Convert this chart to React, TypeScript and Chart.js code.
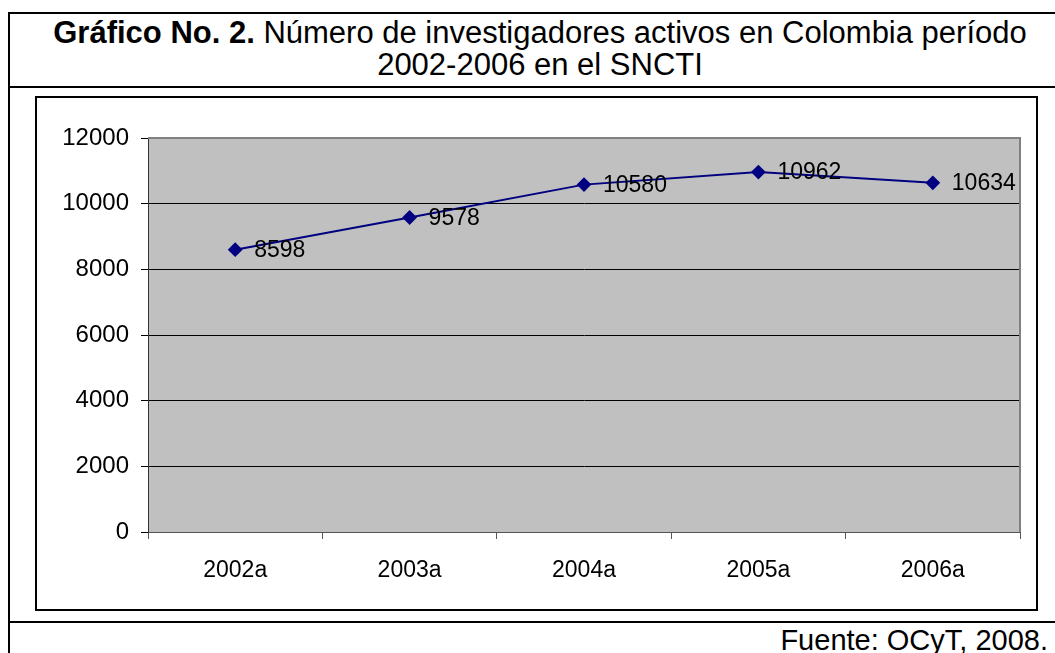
import React, { useEffect, useRef } from "react";
import { Chart, registerables } from "chart.js";

Chart.register(...registerables);

const categories = ["2002a", "2003a", "2004a", "2005a", "2006a"];
const investigadores = [8598, 9578, 10580, 10962, 10634];
const yMin = 0;
const yMax = 12000;
const yStep = 2000;

const FONT = "'Liberation Sans', Arial, sans-serif";

export default function App() {
  const ref = useRef<HTMLCanvasElement | null>(null);

  useEffect(() => {
    if (!ref.current) return;
    const bgPlugin = {
      id: "plotBg",
      beforeDraw(chart: any) {
        const { ctx, chartArea: a } = chart;
        ctx.save();
        ctx.fillStyle = "#c0c0c0";
        ctx.fillRect(a.left, a.top, a.right - a.left, a.bottom - a.top);
        ctx.restore();
      },
      beforeDatasetsDraw(chart: any) {
        const { ctx, chartArea: a } = chart;
        ctx.save();
        ctx.strokeStyle = "#808080";
        ctx.lineWidth = 2;
        ctx.beginPath();
        ctx.moveTo(a.left, a.top);
        ctx.lineTo(a.right, a.top);
        ctx.lineTo(a.right, a.bottom);
        ctx.stroke();
        ctx.restore();
      },
    };
    const labelPlugin = {
      id: "valLabels",
      afterDatasetsDraw(chart: any) {
        const { ctx } = chart;
        const meta = chart.getDatasetMeta(0);
        ctx.save();
        ctx.font = `23px ${FONT}`;
        ctx.fillStyle = "#000";
        ctx.textAlign = "left";
        ctx.textBaseline = "middle";
        meta.data.forEach((pt: any, i: number) => {
          ctx.fillText(String(investigadores[i]), pt.x + 19, pt.y + 1);
        });
        ctx.restore();
      },
    };
    const chart = new Chart(ref.current, {
      type: "line",
      data: {
        labels: categories,
        datasets: [
          {
            data: investigadores,
            borderColor: "#000080",
            backgroundColor: "#000080",
            borderWidth: 2,
            pointStyle: "rectRot",
            pointRadius: 6,
            pointHoverRadius: 6,
            pointBackgroundColor: "#000080",
            pointBorderColor: "#000080",
            tension: 0,
          },
        ],
      },
      options: {
        responsive: false,
        animation: false,
        layout: { padding: { left: 0, top: 40, right: 16, bottom: 0 } },
        plugins: {
          legend: { display: false },
          tooltip: { enabled: false },
          title: { display: false },
        },
        scales: {
          x: {
            offset: true,
            grid: {
              offset: true,
              drawOnChartArea: false,
              tickLength: 7,
              color: "#555",
            },
            border: { display: true, color: "#555", width: 1 },
            ticks: {
              color: "#000",
              font: { family: FONT, size: 23 },
              padding: 18,
              maxRotation: 0,
            },
            afterFit(scale: any) {
              scale.height = 78;
            },
          },
          y: {
            min: yMin,
            max: yMax,
            grid: {
              color: (c: any) => (c.tick && c.tick.value === yMax ? "#808080" : "#000"),
              tickColor: "#000",
              tickLength: 7,
              lineWidth: 1,
            },
            border: { display: true, color: "#333", width: 1 },
            ticks: {
              stepSize: yStep,
              color: "#000",
              font: { family: FONT, size: 24 },
              padding: 12,
              callback: (v: any) => String(v),
            },
            afterFit(scale: any) {
              scale.width = 112;
            },
          },
        },
      },
      plugins: [bgPlugin, labelPlugin],
    });
    return () => chart.destroy();
  }, []);

  return (
    <div
      style={{
        position: "fixed",
        left: 0,
        top: 0,
        width: 1055,
        height: 653,
        overflow: "hidden",
        background: "#fff",
        fontFamily: FONT,
        color: "#000",
      }}
    >
      {/* outer box */}
      <div
        style={{
          position: "absolute",
          left: 8,
          top: 12,
          width: 1070,
          height: 700,
          border: "2px solid #000",
          boxSizing: "border-box",
        }}
      />
      {/* title */}
      <div
        style={{
          position: "absolute",
          left: 9,
          width: 1062,
          top: 17,
          textAlign: "center",
          fontSize: 31,
          lineHeight: "32px",
        }}
      >
        <b>Gráfico No. 2.</b> Número de investigadores activos en Colombia período
        <br />
        2002-2006 en el SNCTI
      </div>
      {/* separator under title */}
      <div style={{ position: "absolute", left: 9, top: 86, width: 1070, height: 2, background: "#000" }} />
      {/* inner chart box */}
      <div
        style={{
          position: "absolute",
          left: 35,
          top: 96,
          width: 1003,
          height: 515,
          border: "2px solid #000",
          boxSizing: "border-box",
        }}
      />
      <canvas
        ref={ref}
        width={1000}
        height={512}
        style={{ position: "absolute", left: 36, top: 98, width: 1000, height: 512 }}
      />
      {/* separator above footer */}
      <div style={{ position: "absolute", left: 9, top: 621, width: 1070, height: 2, background: "#000" }} />
      <div
        style={{
          position: "absolute",
          right: 7,
          top: 624,
          fontSize: 29,
          lineHeight: "32px",
          whiteSpace: "nowrap",
        }}
      >
        Fuente: OCyT, 2008.
      </div>
    </div>
  );
}
